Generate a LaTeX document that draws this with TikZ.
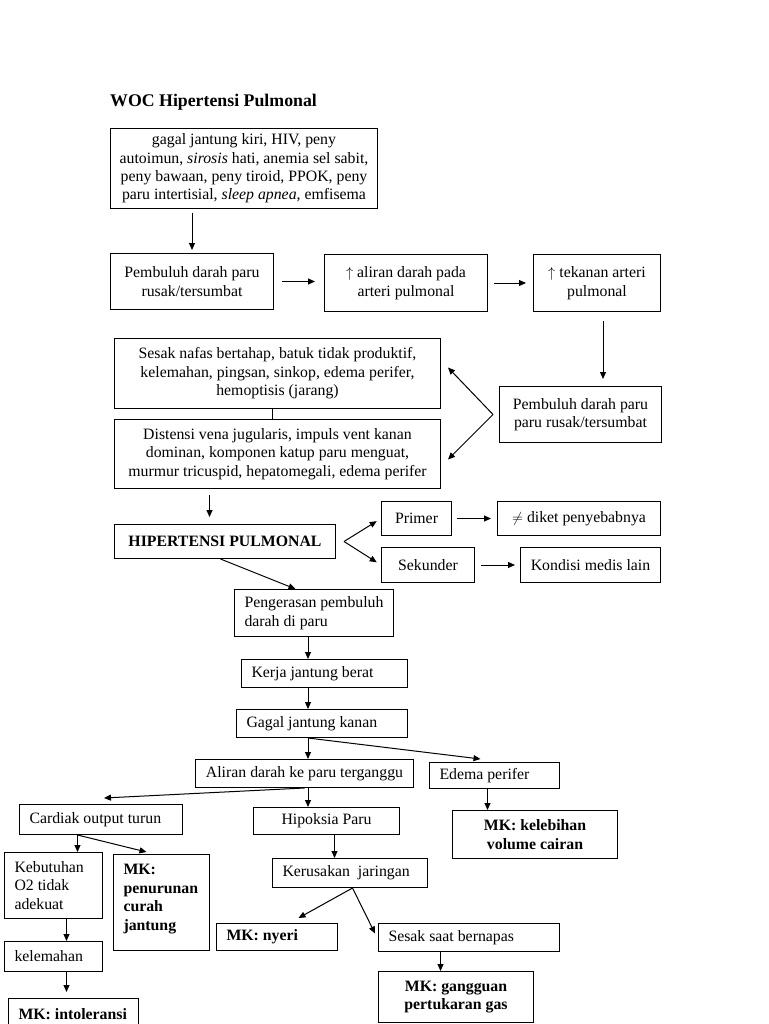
\documentclass[tikz,border=0pt]{standalone}
\usepackage{fontspec}
\setmainfont{Liberation Serif}
\usetikzlibrary{arrows.meta,positioning,calc}
\tikzset{
	box/.style={draw, line width=1pt, anchor=north west, inner ysep=0pt},
	cbox/.style 2 args={box, align=center, inner xsep=4pt, minimum width=#1, minimum height=#2},
	lbox/.style 2 args={box, align=flush left, inner xsep=10pt, text width=#1, minimum height=#2},
	mk/.style={font=\fontsize{15.8}{18.4}\selectfont\bfseries},
	arr/.style={-{Triangle[length=7pt,width=6pt]}, line width=1pt},
	link/.style={line width=1pt}
}

\begin{document}
\begin{tikzpicture}[x=1pt,y=-1pt,every node/.style={font=\fontsize{15.8}{18.4}\selectfont}]
				\useasboundingbox (0,0) rectangle (768,1024);
				
				%%%% title
				\node[anchor=west,inner sep=0pt,font=\fontsize{17.8}{20}\selectfont\bfseries] (title) at (110,102) {WOC Hipertensi Pulmonal};
				
				%%%% top row
				\node[cbox={267pt}{80pt}] (cause) at (110,128) {gagal jantung kiri, HIV, peny\\ autoimun, \textit{sirosis} hati, anemia sel sabit,\\ peny bawaan, peny tiroid, PPOK, peny\\ paru intertisial, \textit{sleep apnea}, emfisema};
				\node[cbox={163pt}{56pt}] (pemb) at (110,253) {Pembuluh darah paru\\ rusak/tersumbat};
				\node[cbox={163pt}{57pt}] (aliran) at (324,254) {$\uparrow$ aliran darah pada\\ arteri pulmonal};
				\node[cbox={127pt}{57pt}] (tekanan) at (533,254) {$\uparrow$ tekanan arteri\\ pulmonal};
				\node[cbox={162pt}{56pt}] (pemb2) at (499,386) {Pembuluh darah paru\\ paru rusak/tersumbat};
				
				%%%% gejala
				\node[cbox={326pt}{70pt}] (sesak) at (114,338) {Sesak nafas bertahap, batuk tidak produktif,\\ kelemahan, pingsan, sinkop, edema perifer,\\ hemoptisis (jarang)};
				\node[cbox={326pt}{69pt}] (distensi) at (114,419) {Distensi vena jugularis, impuls vent kanan\\ dominan, komponen katup paru menguat,\\ murmur tricuspid, hepatomegali, edema perifer};
				
				%%%% HP and its kinds
				\node[cbox={221pt}{34pt},mk] (hiper) at (114,524) {HIPERTENSI PULMONAL};
				\node[cbox={70pt}{34pt}] (primer) at (381,501) {Primer};
				\node[cbox={163pt}{34pt}] (diket) at (497,501) {$\neq$ diket penyebabnya};
				\node[cbox={93pt}{35pt}] (sekunder) at (381,547) {Sekunder};
				\node[cbox={140pt}{35pt}] (kondisi) at (520,547) {Kondisi medis lain};
				
				%%%% chain
				\node[lbox={139pt}{47pt}] (penger) at (234,589) {Pengerasan pembuluh\\ darah di paru};
				\node[lbox={146pt}{28pt}] (kerja) at (241,659) {Kerja jantung berat};
				\node[lbox={151pt}{28pt}] (gagal) at (236,709) {Gagal jantung kanan};
				\node[cbox={218pt}{28pt}] (aliran2) at (195,759) {Aliran darah ke paru terganggu};
				\node[lbox={110pt}{26pt}] (edema) at (429,762) {Edema perifer};
				\node[cbox={165pt}{48pt},mk] (mkcair) at (452,810) {MK: kelebihan\\ volume cairan};
				\node[lbox={143pt}{30pt}] (cardiak) at (19,804) {Cardiak output turun};
				\node[cbox={146pt}{27pt}] (hipoksia) at (253,807) {Hipoksia Paru};
				\node[lbox={135pt}{29pt}] (kerusakan) at (272,858) {Kerusakan\ \ jaringan};
				
				%%%% bottom left
				\node[lbox={78pt}{66pt}] (kebutuhan) at (4,852) {Kebutuhan\\ O2 tidak\\ adekuat};
				\node[lbox={76pt}{96pt},mk] (mkcurah) at (113,854) {MK:\\ penurunan\\ curah\\ jantung\\[-8pt]\mbox{}};
				\node[lbox={78pt}{30pt}] (kelemahan) at (4,941) {kelemahan};
				\node[lbox={110pt}{50pt},mk] (mkintol) at (8,998) {MK: intoleransi\\ aktivitas};
				
				%%%% bottom right
				\node[lbox={101pt}{27pt},mk] (mknyeri) at (216,923) {MK: nyeri};
				\node[lbox={161pt}{28pt}] (sesak2) at (378,923) {Sesak saat bernapas};
				\node[cbox={155pt}{51pt},mk] (mkgas) at (378,971) {MK: gangguan\\ pertukaran gas};
				
				%%%% forks
				\coordinate (spine) at (308,0);
				\coordinate (fork) at ([xshift=-6pt]pemb2.west);
				\coordinate (fork2) at ([xshift=8pt]hiper.east);
				\coordinate (cfork) at ([xshift=-23.5pt]cardiak.south);
				\coordinate (kfork) at ([xshift=2.5pt]kerusakan.south);
				
				%%%% arrows, top
				\draw[arr,shorten <=4pt,shorten >=3pt] (cause.south -| pemb.north) -- (pemb.north);
				\draw[arr,shorten <=8pt,shorten >=9pt] (pemb.east) -- (pemb.east -| aliran.west);
				\draw[arr,shorten <=6pt,shorten >=7pt] (aliran.east) -- (aliran.east -| tekanan.west);
				\draw[arr,shorten <=9pt,shorten >=7pt] ([xshift=6pt]tekanan.south) -- ([xshift=6pt]tekanan.south |- pemb2.north);
				\draw[arr] (fork) -- ([xshift=7pt,yshift=6pt]sesak.east);
				\draw[arr] (fork) -- ([xshift=7pt,yshift=-5.5pt]distensi.east);
				\draw[link] ([xshift=-5pt]sesak.south) -- ([xshift=-5pt]distensi.north);
				\draw[arr,shorten <=6pt] ([xshift=-15.5pt]hiper.north |- distensi.south) -- ([xshift=-15.5pt,yshift=7pt]hiper.north);
				
				%%%% arrows, HP
				\draw[arr,shorten >=5pt] (fork2) -- (primer.west);
				\draw[arr,shorten >=5pt] (fork2) -- (sekunder.west);
				\draw[arr,shorten <=5pt,shorten >=6pt] (primer.east) -- (primer.east -| diket.west);
				\draw[arr,shorten <=6pt,shorten >=5pt] (sekunder.east) -- (sekunder.east -| kondisi.west);
				\draw[arr] ([xshift=-4.5pt]hiper.south) -- ([xshift=-18.5pt]penger.north);
				
				%%%% arrows, chain
				\draw[arr] (penger.south -| spine) -- (kerja.north -| spine);
				\draw[arr] (kerja.south -| spine) -- (gagal.north -| spine);
				\draw[arr] (gagal.south -| spine) -- (aliran2.north -| spine);
				\draw[arr] (gagal.south -| spine) -- ([xshift=-14pt,yshift=3pt]edema.north);
				\draw[arr] (aliran2.south) -- ([xshift=3pt,yshift=6pt]cardiak.north);
				\draw[arr] (aliran2.south -| spine) -- (hipoksia.north -| spine);
				\draw[arr] ([xshift=8pt]hipoksia.south) -- ([xshift=8pt]hipoksia.south |- kerusakan.north);
				\draw[arr] ([xshift=-7pt]edema.south) -- ([xshift=-7pt]edema.south |- mkcair.north);
				
				%%%% arrows, bottom
				\draw[arr] (cfork) -- (cfork |- kebutuhan.north);
				\draw[arr] (cfork) -- ([xshift=-15pt,yshift=2pt]mkcurah.north);
				\draw[arr] ([xshift=13pt]kebutuhan.south) -- ([xshift=13pt]kebutuhan.south |- kelemahan.north);
				\draw[arr,shorten >=6pt] ([xshift=13pt]kelemahan.south) -- ([xshift=13pt]kelemahan.south |- mkintol.north);
				\draw[arr] (kfork) -- ([xshift=21.5pt,yshift=5pt]mknyeri.north);
				\draw[arr] (kfork) -- ([xshift=-3pt,yshift=4pt]sesak2.west);
				\draw[arr] ([xshift=-15.5pt]mkgas.north |- sesak2.south) -- ([xshift=-15.5pt]mkgas.north);
				
		\end{tikzpicture}
\end{document}
